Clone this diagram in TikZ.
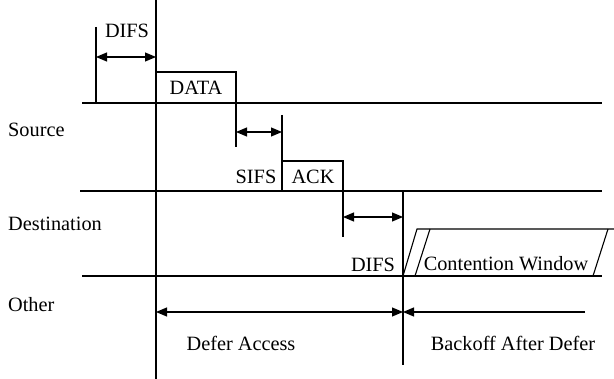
\documentclass[tikz,border=0pt]{standalone}
\usepackage{fontspec}
\setmainfont{Liberation Serif}
\usetikzlibrary{arrows.meta}
\begin{document}
\begin{tikzpicture}[x=1pt,y=-1pt,
  ln/.style={line width=1.1pt,black},
  dur/.style={line width=1.1pt,{Triangle[length=11pt,width=9pt]}-{Triangle[length=11pt,width=9pt]}},
  durr/.style={line width=1.1pt,-{Triangle[length=11pt,width=9pt]}},
  lbl/.style={font=\fontsize{20.3}{24}\selectfont,inner sep=0pt},
  side/.style={lbl,anchor=west}]
\useasboundingbox (0,0) rectangle (614,379);
% named coordinates
\coordinate (s0) at (82,103);  \coordinate (s1) at (602,103);
\coordinate (d0) at (80,191);  \coordinate (d1) at (602,191);
\coordinate (o0) at (82,276);  \coordinate (o1) at (602,276);
\coordinate (v0) at (156,0);   \coordinate (v1) at (156,379);
\coordinate (t0) at (96,27);   \coordinate (t1) at (96,103);
\coordinate (a0) at (96,57);   \coordinate (a1) at (156,57);
\coordinate (db0) at (156,72); \coordinate (db1) at (236,72); \coordinate (db2) at (236,147);
\coordinate (sf0) at (236,132); \coordinate (sf1) at (282,132);
\coordinate (k0) at (282,115); \coordinate (k1) at (282,191);
\coordinate (ak0) at (282,161); \coordinate (ak1) at (343,161); \coordinate (ak2) at (343,237);
\coordinate (df0) at (343,217); \coordinate (df1) at (403,217);
\coordinate (w0) at (403,191); \coordinate (w1) at (403,365);
\coordinate (c1a) at (403,276); \coordinate (c1b) at (417,229);
\coordinate (c2a) at (415,276); \coordinate (c2b) at (430,229);
\coordinate (c3a) at (593,276); \coordinate (c3b) at (608,229);
\coordinate (ct) at (614,229);
\coordinate (da0) at (156,312); \coordinate (da1) at (403,312);
\coordinate (ba0) at (585,312);
% lines
\draw[ln] (s0) -- (s1);
\draw[ln] (d0) -- (d1);
\draw[ln] (o0) -- (o1);
\draw[ln] (v0) -- (v1);
\draw[ln] (t0) -- (t1);
\draw[dur] (a0) -- (a1);
\draw[ln] (db0) -- (db1) -- (db2);
\draw[dur] (sf0) -- (sf1);
\draw[ln] (k0) -- (k1);
\draw[ln] (ak0) -- (ak1) -- (ak2);
\draw[dur] (df0) -- (df1);
\draw[ln] (w0) -- (w1);
\draw[ln] (c1a) -- (c1b) -- (ct);
\draw[ln] (c2a) -- (c2b);
\draw[ln] (c3a) -- (c3b);
\draw[dur] (da0) -- (da1);
\draw[durr] (ba0) -- (da1);
% labels
\node[lbl] (difs1) at (127,31) {DIFS};
\node[lbl] (data) at (196,88) {DATA};
\node[lbl] (sifs) at (256,177) {SIFS};
\node[lbl] (ack) at (313,177) {ACK};
\node[lbl] (difs2) at (373,265) {DIFS};
\node[lbl] (cw) at (506,264) {Contention Window};
\node[side] (src) at (8,130) {Source};
\node[side] (dst) at (8,224) {Destination};
\node[side] (oth) at (8,305) {Other};
\node[lbl] (defer) at (241,343) {Defer Access};
\node[lbl] (back) at (513,343) {Backoff After Defer};
\end{tikzpicture}
\end{document}
